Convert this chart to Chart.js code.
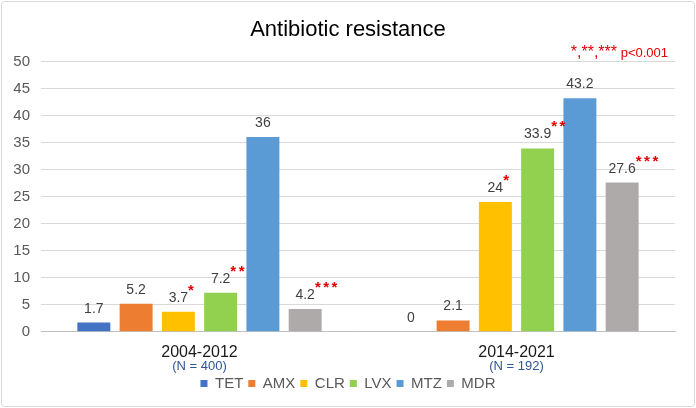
<!DOCTYPE html>
<html>
<head>
<meta charset="utf-8">
<script src="https://cdn.jsdelivr.net/npm/chart.js@4/dist/chart.umd.min.js"></script>
<style>
  html, body { margin: 0; padding: 0; background: #fff; }
  #wrap { width: 696px; height: 408px; }
</style>
</head>
<body>
<div id="wrap"><canvas id="c" width="696" height="408"></canvas></div>
<script>
// ---- data ----
const categories = ["2004-2012", "2014-2021"];
const sampleSizes = ["(N = 400)", "(N = 192)"];
const seriesNames = ["TET", "AMX", "CLR", "LVX", "MTZ", "MDR"];
const TET = [1.7, 0];
const AMX = [5.2, 2.1];
const CLR = [3.7, 24];
const LVX = [7.2, 33.9];
const MTZ = [36, 43.2];
const MDR = [4.2, 27.6];
const significance = { CLR: ["*", "*"], LVX: ["**", "**"], MDR: ["***", "***"] };
const yTicks = [0, 5, 10, 15, 20, 25, 30, 35, 40, 45, 50];
const pNoteStars = "*,**,***";
const pNoteText = " p<0.001";

const seriesValues = [TET, AMX, CLR, LVX, MTZ, MDR];
const seriesColors = ["#4472C4", "#ED7D31", "#FFC000", "#92D050", "#5B9BD5", "#AEAAAA"];
const FONT = "'Liberation Sans', Arial, sans-serif";
const RED = "#E00000";

const labelPlugin = {
  id: "labels",
  beforeDraw(chart) {
    const ctx = chart.ctx;
    ctx.save();
    ctx.strokeStyle = "#D9D9D9";
    ctx.lineWidth = 1;
    ctx.beginPath();
    ctx.roundRect(1.5, 1.5, chart.width - 3, chart.height - 3, 3);
    ctx.stroke();
    ctx.restore();
  },
  afterDraw(chart) {
    const ctx = chart.ctx;
    const xs = chart.scales.x;
    ctx.save();
    ctx.font = "13px " + FONT;
    ctx.fillStyle = "#2F5597";
    ctx.textAlign = "center";
    ctx.textBaseline = "middle";
    sampleSizes.forEach((s, i) => {
      ctx.fillText(s, xs.getPixelForValue(i), xs.top + 35);
    });
    ctx.restore();
  },
  afterDatasetsDraw(chart) {
    const ctx = chart.ctx;
    ctx.save();
    chart.data.datasets.forEach((ds, i) => {
      const meta = chart.getDatasetMeta(i);
      meta.data.forEach((bar, j) => {
        const text = String(ds.data[j]);
        const y = bar.y - 10;
        ctx.font = "14px " + FONT;
        ctx.fillStyle = "#404040";
        ctx.textAlign = "center";
        ctx.textBaseline = "alphabetic";
        ctx.fillText(text, bar.x, y);
        const marks = significance[ds.label];
        if (marks && marks[j]) {
          const w = ctx.measureText(text).width;
          ctx.font = "bold 15px " + FONT;
          ctx.fillStyle = RED;
          ctx.textAlign = "left";
          let sx = bar.x + w / 2;
          for (const ch of marks[j]) {
            ctx.fillText(ch, sx, y - 7);
            sx += 8.3;
          }
        }
      });
    });
    // p-value note
    const area = chart.chartArea;
    const yN = chart.scales.y.getPixelForValue(50) - 4;
    ctx.fillStyle = RED;
    ctx.textBaseline = "alphabetic";
    ctx.textAlign = "right";
    ctx.font = "13px " + FONT;
    const right = area.right - 7;
    ctx.fillText(pNoteText, right, yN);
    const pw = ctx.measureText(pNoteText).width;
    ctx.font = "16px " + FONT;
    ctx.fillText(pNoteStars, right - pw, yN);
    ctx.restore();
  }
};

new Chart(document.getElementById("c"), {
  type: "bar",
  data: {
    labels: categories,
    datasets: seriesNames.map((n, i) => ({
      label: n,
      data: seriesValues[i],
      backgroundColor: seriesColors[i],
      borderWidth: 0,
      categoryPercentage: 0.8,
      barPercentage: 0.78
    }))
  },
  options: {
    responsive: false,
    animation: false,
    devicePixelRatio: 1,
    layout: { padding: { left: 2, right: 2, top: 11, bottom: 7 } },
    plugins: {
      tooltip: { enabled: false },
      title: {
        display: true,
        text: "Antibiotic resistance",
        color: "#000000",
        font: { family: FONT, size: 22, weight: "normal" },
        padding: { top: 6, bottom: 18 }
      },
      legend: {
        position: "bottom",
        labels: {
          boxWidth: 7,
          boxHeight: 7,
          padding: 5,
          color: "#595959",
          font: { family: FONT, size: 15 }
        }
      }
    },
    scales: {
      x: {
        grid: { display: false },
        border: { display: true, color: "#BFBFBF" },
        ticks: { color: "#1A1A1A", font: { family: FONT, size: 16 }, padding: 3 },
        afterFit(scale) { scale.height += 6; }
      },
      y: {
        min: 0,
        max: 50,
        afterBuildTicks(scale) { scale.ticks = yTicks.map(v => ({ value: v })); },
        grid: { color: "#D9D9D9", drawTicks: false },
        border: { display: false },
        ticks: { color: "#595959", font: { family: FONT, size: 15 }, padding: 11 },
        afterFit(scale) { scale.width = 39; }
      },
      yRightSpace: {
        type: "linear",
        position: "right",
        display: true,
        grid: { display: false, drawTicks: false },
        border: { display: false },
        ticks: { display: false },
        afterFit(scale) { scale.width = 19; }
      }
    }
  },
  plugins: [labelPlugin]
});
</script>
</body>
</html>
